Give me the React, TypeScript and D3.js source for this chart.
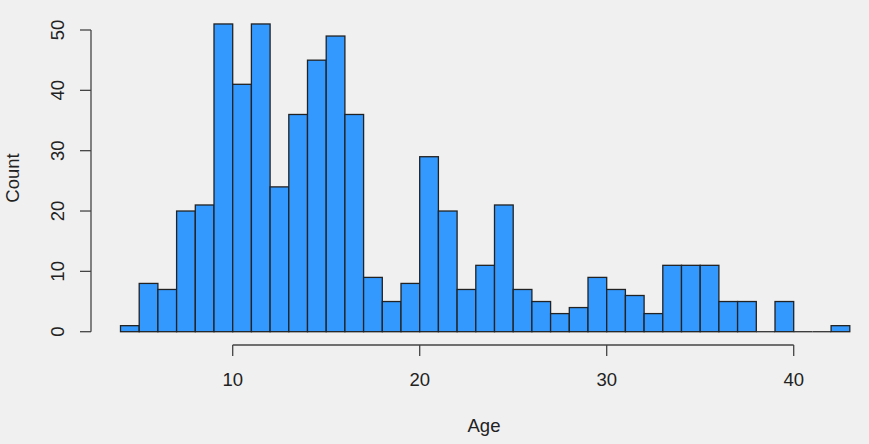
import React from "react";
import * as d3 from "d3";

const binStarts = [4,5,6,7,8,9,10,11,12,13,14,15,16,17,18,19,20,21,22,23,24,25,26,27,28,29,30,31,32,33,34,35,36,37,38,39,40,41,42];
const counts = [1,8,7,20,21,51,41,51,24,36,45,49,36,9,5,8,29,20,7,11,21,7,5,3,4,9,7,6,3,11,11,11,5,5,0,5,0,0,1];
const xTicks = [10,20,30,40];
const yTicks = [0,10,20,30,40,50];
const xLabel = "Age";
const yLabel = "Count";

const W = 869, H = 444;
const FONT = "'Liberation Sans', Arial, sans-serif";
const FS = 18.5;

export default function App() {
  const x = d3.scaleLinear().domain([10, 40]).range([232.7, 793.7]);
  const y = d3.scaleLinear().domain([0, 50]).range([331.7, 30]);
  const axisY = 345;
  const axisX = 91;
  return (
    <div style={{ position: "absolute", left: 0, top: 0 }}>
      <svg width={W} height={H} style={{ display: "block", background: "#f0f0f0" }}>
        <rect x={0} y={0} width={W} height={H} fill="#f0f0f0" />
        {binStarts.map((b, i) =>
          counts[i] > 0 ? (
            <rect
              key={b}
              x={x(b)}
              y={y(counts[i])}
              width={x(b + 1) - x(b)}
              height={y(0) - y(counts[i])}
              fill="#3399ff"
              stroke="#222"
              strokeWidth={1.3}
            />
          ) : (
            <line key={b} x1={x(b)} x2={x(b + 1)} y1={y(0)} y2={y(0)} stroke="#333" strokeWidth={1.3} />
          )
        )}
        {/* x axis */}
        <line x1={x(xTicks[0])} x2={x(xTicks[xTicks.length - 1])} y1={axisY} y2={axisY} stroke="#444" strokeWidth={1.3} />
        {xTicks.map((t) => (
          <g key={t}>
            <line x1={x(t)} x2={x(t)} y1={axisY} y2={axisY + 11} stroke="#444" strokeWidth={1.3} />
            <text x={x(t)} y={386} textAnchor="middle" fontFamily={FONT} fontSize={FS} fill="#222">{t}</text>
          </g>
        ))}
        {/* y axis */}
        <line x1={axisX} x2={axisX} y1={y(yTicks[0])} y2={y(yTicks[yTicks.length - 1])} stroke="#444" strokeWidth={1.3} />
        {yTicks.map((t) => (
          <g key={t}>
            <line x1={axisX - 11} x2={axisX} y1={y(t)} y2={y(t)} stroke="#444" strokeWidth={1.3} />
            <text transform={`translate(64,${y(t)}) rotate(-90)`} textAnchor="middle" fontFamily={FONT} fontSize={FS} fill="#222">{t}</text>
          </g>
        ))}
        <text x={484} y={432} textAnchor="middle" fontFamily={FONT} fontSize={FS} fill="#222">{xLabel}</text>
        <text transform={`translate(19,178) rotate(-90)`} textAnchor="middle" fontFamily={FONT} fontSize={FS} fill="#222">{yLabel}</text>
      </svg>
    </div>
  );
}
